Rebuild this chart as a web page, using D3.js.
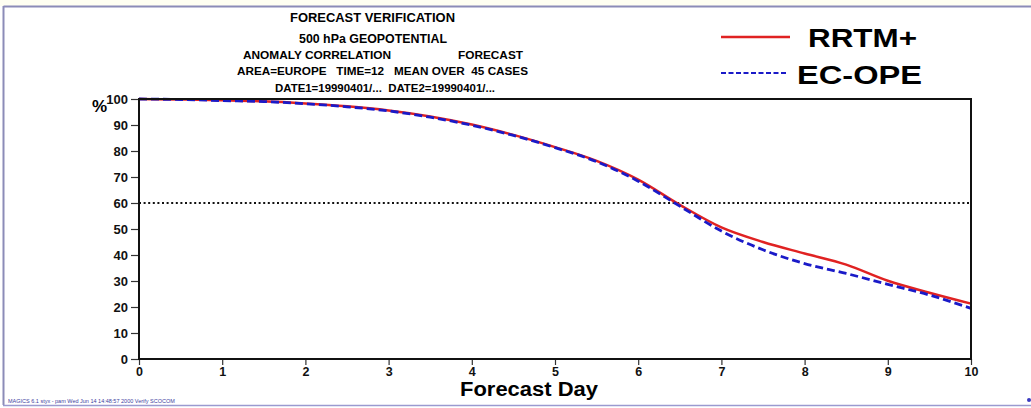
<!DOCTYPE html>
<html>
<head>
<meta charset="utf-8">
<script src="https://cdn.jsdelivr.net/npm/d3@7"></script>
<style>
  html, body { margin: 0; padding: 0; background: #fff; }
  svg { display: block; font-family: "Liberation Sans", Arial, Helvetica, sans-serif; }
</style>
</head>
<body>
<svg id="chart" width="1031" height="408"></svg>
<script>
// Anomaly correlation (%) of 500 hPa geopotential, Europe, mean over 45 cases
const days = [0, 0.5, 1, 1.5, 2, 2.5, 3, 3.5, 4, 4.5, 5, 5.5, 6, 6.5, 7, 7.5, 8, 8.5, 9, 9.5, 10];
const rrtm = [100, 99.8, 99.5, 99.1, 98.3, 97.2, 95.6, 93.3, 90.2, 86.2, 81.5, 76.2, 69.0, 59.3, 50.6, 45.0, 40.6, 36.3, 30.1, 25.5, 21.3];
const ecope = [100, 99.8, 99.4, 99.0, 98.2, 97.0, 95.4, 93.0, 89.9, 86.0, 81.3, 75.9, 68.4, 58.8, 49.2, 42.0, 36.7, 32.9, 28.7, 24.6, 19.5];
const xTicks = [0, 1, 2, 3, 4, 5, 6, 7, 8, 9, 10];
const yTicks = [0, 10, 20, 30, 40, 50, 60, 70, 80, 90, 100];
const refLevel = 60;
const seriesNames = ["RRTM+", "EC-OPE"];
const titleLines = ["FORECAST VERIFICATION", "500 hPa GEOPOTENTIAL"];
const footer = "MAGICS 6.1 styx - pam Wed Jun 14 14:48:57 2000 Verify SCOCOM";

const svg = d3.select("#chart");
const W = 1031, H = 408;

// page frame
svg.append("rect").attr("x", 0).attr("y", 0).attr("width", W).attr("height", 6).attr("fill", "#fffff2");
svg.append("line").attr("x1", 3.5).attr("x2", W).attr("y1", 6.5).attr("y2", 6.5)
  .attr("stroke", "#8c8cb8").attr("stroke-width", 2);
svg.append("line").attr("x1", 3.5).attr("x2", 3.5).attr("y1", 6).attr("y2", 405)
  .attr("stroke", "#8c8cb8").attr("stroke-width", 2);
svg.append("line").attr("x1", 3).attr("x2", W).attr("y1", 405.5).attr("y2", 405.5)
  .attr("stroke", "#9a9ad0").attr("stroke-width", 1.5);
svg.append("circle").attr("cx", 1029).attr("cy", 400).attr("r", 2).attr("fill", "#3a3ac0");

const x = d3.scaleLinear().domain([0, 10]).range([139, 971]);
const y = d3.scaleLinear().domain([0, 100]).range([359, 99]);

// header block; each line is stretched to its printed width
const header = [
  { t: titleLines[0], x: 290, y: 22, w: 165, fs: 13.5 },
  { t: titleLines[1], x: 299, y: 42.5, w: 148, fs: 13.5 },
  { t: "ANOMALY CORRELATION", x: 243, y: 58.5, w: 148, fs: 11 },
  { t: "FORECAST", x: 458, y: 58.5, w: 65, fs: 11 },
  { t: "AREA=EUROPE   TIME=12   MEAN OVER  45 CASES", x: 237, y: 75, w: 291, fs: 11 },
  { t: "DATE1=19990401/...  DATE2=19990401/...", x: 275, y: 91.5, w: 220, fs: 11 }
];
header.forEach(s => svg.append("text").attr("x", s.x).attr("y", s.y)
  .attr("font-weight", "bold").attr("font-size", s.fs)
  .attr("textLength", s.w).attr("lengthAdjust", "spacingAndGlyphs")
  .style("white-space", "pre").text(s.t));

// legend
const legY = [37, 73];
svg.append("line").attr("x1", 721).attr("x2", 790).attr("y1", legY[0]).attr("y2", legY[0])
  .attr("stroke", "#e02222").attr("stroke-width", 2.5);
svg.append("line").attr("x1", 721).attr("x2", 788).attr("y1", legY[1]).attr("y2", legY[1])
  .attr("stroke", "#1a1ac8").attr("stroke-width", 2.2).attr("stroke-dasharray", "5,2.5");
svg.append("text").attr("x", 808).attr("y", 47).attr("font-weight", "bold")
  .attr("font-size", 25).attr("textLength", 109).attr("lengthAdjust", "spacingAndGlyphs")
  .text(seriesNames[0]);
svg.append("text").attr("x", 797).attr("y", 84).attr("font-weight", "bold")
  .attr("font-size", 25).attr("textLength", 125).attr("lengthAdjust", "spacingAndGlyphs")
  .text(seriesNames[1]);

// axes
const yAxis = d3.axisLeft(y).tickValues(yTicks).tickSize(8).tickPadding(3).tickFormat(d3.format("d"));
const gy = svg.append("g").attr("transform", `translate(${x(0)},0)`).call(yAxis);
gy.select(".domain").remove();
gy.selectAll("line").attr("stroke", "#333").attr("stroke-width", 1.2);
gy.selectAll("text").attr("font-weight", "bold").attr("font-size", 13)
  .attr("font-family", "Liberation Sans, Arial, sans-serif").attr("fill", "#111");

const xAxis = d3.axisBottom(x).tickValues(xTicks).tickSize(-7).tickPadding(4).tickFormat(d3.format("d"));
const gx = svg.append("g").attr("transform", `translate(0,${y(0)})`).call(xAxis);
gx.select(".domain").remove();
gx.selectAll("line").attr("stroke", "#333").attr("stroke-width", 1.2).attr("y2", 6);
gx.selectAll("text").attr("font-weight", "bold").attr("font-size", 12.5)
  .attr("font-family", "Liberation Sans, Arial, sans-serif").attr("fill", "#111").attr("y", 8);

svg.append("text").attr("x", 92).attr("y", 112).attr("font-weight", "bold").attr("font-size", 17).text("%");
svg.append("text").attr("x", 460).attr("y", 396)
  .attr("font-weight", "bold").attr("font-size", 20)
  .attr("textLength", 138).attr("lengthAdjust", "spacingAndGlyphs").text("Forecast Day");

// reference level
svg.append("line").attr("x1", x(0)).attr("x2", x(10)).attr("y1", y(refLevel)).attr("y2", y(refLevel))
  .attr("stroke", "#111").attr("stroke-width", 2).attr("stroke-dasharray", "2,2.6");

// series
const line = d3.line().x((d, i) => x(days[i])).y(d => y(d)).curve(d3.curveMonotoneX);
svg.append("path").datum(rrtm).attr("d", line).attr("fill", "none")
  .attr("stroke", "#e02222").attr("stroke-width", 2.5);
svg.append("path").datum(ecope).attr("d", line).attr("fill", "none")
  .attr("stroke", "#1a1ac8").attr("stroke-width", 2.8).attr("stroke-dasharray", "8,4");

// plot frame
svg.append("rect").attr("x", x(0)).attr("y", y(100)).attr("width", x(10) - x(0)).attr("height", y(0) - y(100))
  .attr("fill", "none").attr("stroke", "#111").attr("stroke-width", 2);

// footer
svg.append("text").attr("x", 8).attr("y", 403).attr("font-size", 5.5).attr("fill", "#4040a0").text(footer);
</script>
</body>
</html>
